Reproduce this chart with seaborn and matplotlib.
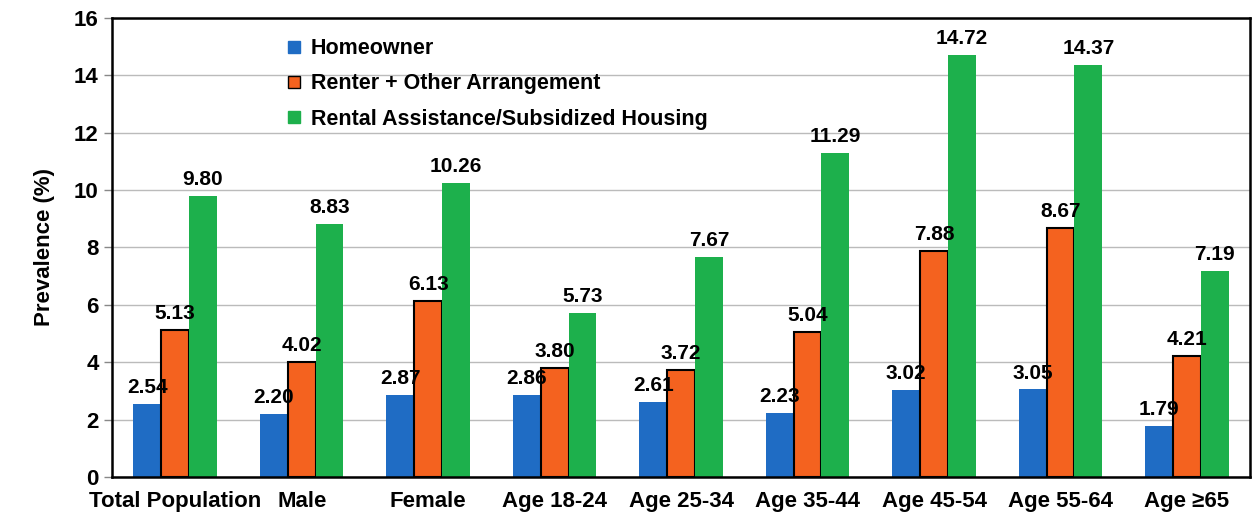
import matplotlib
matplotlib.use("Agg")
import matplotlib.pyplot as plt
import numpy as np
import pandas as pd
import seaborn as sns

groups = ["Total Population", "Male", "Female", "Age 18-24", "Age 25-34",
          "Age 35-44", "Age 45-54", "Age 55-64", "Age \u226565"]
series = ["Homeowner", "Renter + Other Arrangement",
          "Rental Assistance/Subsidized Housing"]
homeowner = [2.54, 2.20, 2.87, 2.86, 2.61, 2.23, 3.02, 3.05, 1.79]
renter = [5.13, 4.02, 6.13, 3.80, 3.72, 5.04, 7.88, 8.67, 4.21]
assisted = [9.80, 8.83, 10.26, 5.73, 7.67, 11.29, 14.72, 14.37, 7.19]

colors = ["#1F6CC4", "#F4621F", "#1DB04C"]

df = pd.DataFrame({
    "group": groups * 3,
    "series": [series[0]] * 9 + [series[1]] * 9 + [series[2]] * 9,
    "value": homeowner + renter + assisted,
})

sns.set_style("white")
plt.rcParams["font.family"] = ["Liberation Sans", "DejaVu Sans"]
plt.rcParams["font.weight"] = "bold"
plt.rcParams["text.color"] = "black"
plt.rcParams["xtick.color"] = "black"
plt.rcParams["ytick.color"] = "black"
plt.rcParams["axes.labelcolor"] = "black"

fig = plt.figure(figsize=(12.54, 5.29), dpi=100)
ax = fig.add_axes([0.0893, 0.0983, 0.9077, 0.8677])

sns.barplot(data=df, x="group", y="value", hue="series", palette=colors,
            width=0.66, gap=0, saturation=1, ax=ax, errorbar=None)

for i, cont in enumerate(ax.containers):
    for bar in cont:
        if i == 1:
            bar.set_edgecolor("black")
            bar.set_linewidth(1.5)
        else:
            bar.set_linewidth(0)
    ax.bar_label(cont, fmt="%.2f", padding=5, fontsize=15, fontweight="bold")

ax.set_ylim(0, 16)
ax.set_yticks(np.arange(0, 17, 2))
ax.set_xlim(-0.5, len(groups) - 0.5)
ax.set_xticks(np.arange(-0.5, len(groups)), minor=True)
ax.tick_params(axis="x", which="major", length=0, labelsize=16, pad=10)
ax.tick_params(axis="x", which="minor", length=6, width=1, color="#888888", direction="out")
ax.tick_params(axis="y", length=6, width=1, color="#888888", labelsize=16, left=True)
for lbl in ax.get_xticklabels() + ax.get_yticklabels():
    lbl.set_fontweight("bold")

ax.yaxis.grid(True, color="#BBBBBB", linewidth=1)
ax.set_axisbelow(True)
for s in ax.spines.values():
    s.set_color("black")
    s.set_linewidth(1.8)

ax.set_xlabel("")
ax.set_ylabel("Prevalence (%)", fontsize=16, fontweight="bold", labelpad=14)

handles = [plt.Line2D([], [], marker="s", linestyle="", markersize=9,
                      markerfacecolor=c, markeredgecolor="black" if j == 1 else c)
           for j, c in enumerate(colors)]
ax.legend(handles, series, loc="upper left", bbox_to_anchor=(0.133, 0.998),
          frameon=False, handlelength=1.0, handletextpad=0.3, labelspacing=0.66,
          prop={"weight": "bold", "size": 15.5})

fig.savefig("out.png", dpi=100)
